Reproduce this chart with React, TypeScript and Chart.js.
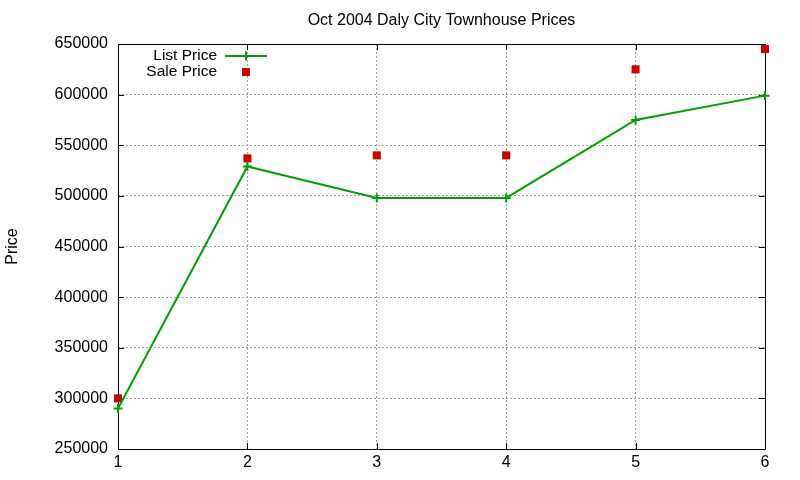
import { useEffect, useRef } from 'react'
import { Chart, registerables } from 'chart.js'

Chart.register(...registerables)

// chart values
const days = [1, 2, 3, 4, 5, 6]
const listPrice = [290000, 529000, 498000, 498000, 575000, 599000]
const salePrice = [300000, 537000, 540000, 540000, 625000, 645000]
const yTicks = [250000, 300000, 350000, 400000, 450000, 500000, 550000, 600000, 650000]

const FONT = 'Liberation Sans, Arial, sans-serif'
const GREEN = '#00a000'
const RED = '#cc0000'

// black frame with gnuplot-style inward ticks on all four sides
const framePlugin = {
  id: 'frame',
  beforeDatasetsDraw(chart: any) {
    const { ctx, chartArea: a, scales } = chart
    const len = 6
    ctx.save()
    ctx.strokeStyle = '#000'
    ctx.lineWidth = 1
    ctx.beginPath()
    ctx.rect(Math.round(a.left) + 0.5, Math.round(a.top) + 0.5, Math.round(a.right - a.left), Math.round(a.bottom - a.top))
    for (const v of yTicks) {
      const y = Math.round(scales.y.getPixelForValue(v)) + 0.5
      ctx.moveTo(a.left, y); ctx.lineTo(a.left + len, y)
      ctx.moveTo(a.right, y); ctx.lineTo(a.right - len, y)
    }
    for (const v of days) {
      const x = Math.round(scales.x.getPixelForValue(v)) + 0.5
      ctx.moveTo(x, a.bottom); ctx.lineTo(x, a.bottom - len)
      ctx.moveTo(x, a.top); ctx.lineTo(x, a.top + len)
    }
    ctx.stroke()
    ctx.restore()
  },
}

// key in the upper left corner, text right-aligned before the sample
const keyPlugin = {
  id: 'key',
  afterDatasetsDraw(chart: any) {
    const { ctx } = chart
    const textRight = 217
    const sx0 = 225
    const sx1 = 267
    const mid = (sx0 + sx1) / 2
    ctx.save()
    ctx.font = `15.5px ${FONT}`
    ctx.textAlign = 'right'
    ctx.textBaseline = 'middle'
    chart.data.datasets.forEach((ds: any, i: number) => {
      const y = 56 + i * 16
      ctx.fillStyle = '#000'
      ctx.fillText(ds.label, textRight, y)
      ctx.strokeStyle = ds.borderColor
      ctx.fillStyle = ds.backgroundColor
      ctx.lineWidth = 2
      if (ds.showLine !== false) {
        ctx.beginPath()
        ctx.moveTo(sx0, y); ctx.lineTo(sx1, y)
        ctx.moveTo(mid, y - 4.5); ctx.lineTo(mid, y + 4.5)
        ctx.stroke()
      } else {
        ctx.fillRect(mid - 4, y - 4, 8, 8)
      }
    })
    ctx.restore()
  },
}

export default function App() {
  const ref = useRef<HTMLCanvasElement | null>(null)

  useEffect(() => {
    document.body.style.margin = '0'
    if (!ref.current) return
    Chart.defaults.color = '#000'
    Chart.defaults.font.family = FONT
    Chart.defaults.font.size = 16
    const chart = new Chart(ref.current, {
      type: 'line',
      data: {
        datasets: [
          {
            label: 'List Price',
            data: days.map((d, i) => ({ x: d, y: listPrice[i] })),
            borderColor: GREEN,
            backgroundColor: GREEN,
            borderWidth: 2,
            pointStyle: 'cross',
            pointRadius: 4.5,
            pointBorderWidth: 2,
            pointHoverRadius: 4.5,
            tension: 0,
            clip: false,
          },
          {
            label: 'Sale Price',
            data: days.map((d, i) => ({ x: d, y: salePrice[i] })),
            showLine: false,
            borderColor: RED,
            backgroundColor: RED,
            pointStyle: 'rect',
            pointRadius: 5.7,
            pointBorderWidth: 0,
            pointHoverRadius: 5.7,
            clip: false,
          },
        ],
      },
      options: {
        responsive: false,
        animation: false,
        devicePixelRatio: 1,
        layout: { padding: { left: 0, right: 35, top: 0, bottom: 0 } },
        plugins: {
          legend: { display: false },
          tooltip: { enabled: false },
          title: {
            display: true,
            text: 'Oct 2004 Daly City Townhouse Prices',
            fullSize: false,
            font: { size: 16, weight: 'normal' },
            padding: { top: 11, bottom: 13.8 },
          },
        },
        scales: {
          x: {
            type: 'linear',
            min: 1,
            max: 6,
            afterFit: (s: any) => { s.height = 31 },
            ticks: { stepSize: 1, padding: 4, color: '#000' },
            grid: { color: '#a0a0a0', drawTicks: false },
            border: { display: false, dash: [2, 2] },
          },
          y: {
            type: 'linear',
            min: 250000,
            max: 650000,
            afterFit: (s: any) => { s.width = 118 },
            ticks: { stepSize: 50000, padding: 10, color: '#000', callback: (v: any) => String(v) },
            grid: { color: '#a0a0a0', drawTicks: false },
            border: { display: false, dash: [2, 2] },
            title: { display: true, text: 'Price', padding: { top: 3, bottom: 0 } },
          },
        },
      },
      plugins: [framePlugin, keyPlugin],
    })
    return () => chart.destroy()
  }, [])

  return <canvas ref={ref} width={800} height={480} style={{ display: 'block' }} />
}
